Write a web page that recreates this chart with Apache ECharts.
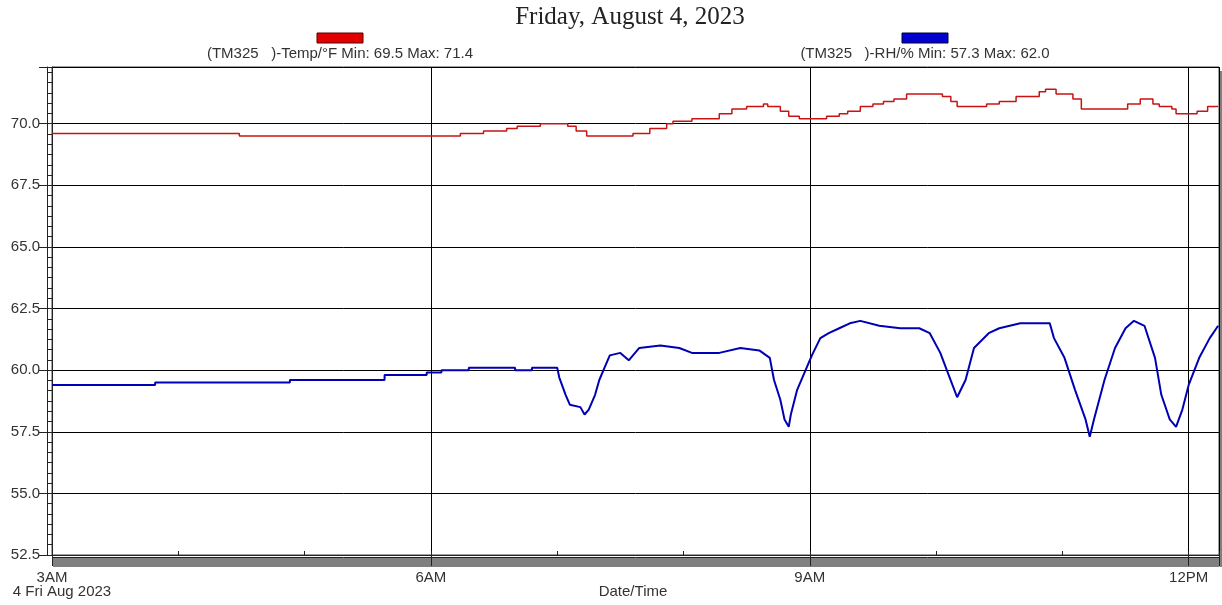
<!DOCTYPE html>
<html><head><meta charset="utf-8">
<script src="https://cdn.jsdelivr.net/npm/echarts@6/dist/echarts.min.js"></script>
<style>html,body{margin:0;padding:0;background:#fff}#c{width:1222px;height:605px}</style>
</head><body><div id="c"></div>
<script>
const titleText = 'Friday, August 4, 2023';
const xTickLabels = {3: '3AM', 6: '6AM', 9: '9AM', 12: '12PM'};
const dateLabel = '4 Fri Aug 2023';
const xAxisName = 'Date/Time';
const tempName = '(TM325   )-Temp/\u00B0F';
const rhName = '(TM325   )-RH/%';

const tempTimes = ["3:00","4:29","6:14","6:25","6:36","6:41","6:52","7:05","7:09","7:14","7:36","7:44","7:52","7:55","8:04","8:17","8:23","8:30","8:38","8:40","8:46","8:50","8:55","9:08","9:14","9:18","9:24","9:30","9:35","9:40","9:46","10:03","10:07","10:10","10:24","10:30","10:38","10:49","10:52","10:57","11:05","11:09","11:31","11:37","11:43","11:46","11:52","11:54","12:04","12:09","12:14"];
const tempValues = [69.6,69.5,69.6,69.7,69.8,69.9,70.0,69.9,69.7,69.5,69.6,69.8,70.0,70.1,70.2,70.4,70.6,70.7,70.8,70.7,70.5,70.3,70.2,70.3,70.4,70.5,70.7,70.8,70.9,71.0,71.2,71.1,70.9,70.7,70.8,70.9,71.1,71.3,71.4,71.2,71.0,70.6,70.8,71.0,70.8,70.7,70.6,70.4,70.5,70.7,70.7];

const rhTimes = ["3:00","3:49","3:49","4:53","4:53","5:38","5:38","5:58","5:58","6:05","6:05","6:18","6:18","6:40","6:40","6:48","6:48","7:00","7:01","7:04","7:06","7:11","7:13","7:15","7:18","7:20","7:23","7:25","7:30","7:34","7:39","7:49","7:58","8:04","8:17","8:27","8:36","8:41","8:43","8:46","8:48","8:50","8:51","8:54","8:58","9:01","9:05","9:09","9:14","9:19","9:24","9:33","9:43","9:52","9:57","10:02","10:06","10:10","10:14","10:18","10:25","10:30","10:40","10:54","10:56","11:01","11:06","11:11","11:13","11:15","11:20","11:25","11:30","11:34","11:39","11:44","11:47","11:51","11:54","11:57","12:00","12:05","12:10","12:14"];
const rhValues = [59.4,59.4,59.5,59.5,59.6,59.6,59.8,59.8,59.9,59.9,60.0,60.0,60.1,60.1,60.0,60.0,60.1,60.1,59.7,59.0,58.6,58.5,58.2,58.4,59.0,59.6,60.2,60.6,60.7,60.4,60.9,61.0,60.9,60.7,60.7,60.9,60.8,60.5,59.6,58.8,58.0,57.7,58.2,59.2,60.0,60.6,61.3,61.5,61.7,61.9,62.0,61.8,61.7,61.7,61.5,60.7,59.8,58.9,59.6,60.9,61.5,61.7,61.9,61.9,61.3,60.5,59.2,58.0,57.3,58.0,59.6,60.9,61.7,62.0,61.8,60.5,59.0,58.0,57.7,58.4,59.4,60.5,61.3,61.8];

function toHours(s) { const p = s.split(':').map(Number); return p[0] + p[1] / 60; }
const tempData = tempTimes.map((t, i) => [toHours(t), tempValues[i]]);
const rhData = rhTimes.map((t, i) => [toHours(t), rhValues[i]]);
const tempText = tempName + ' Min: ' + Math.min(...tempValues).toFixed(1) + ' Max: ' + Math.max(...tempValues).toFixed(1);
const rhText = rhName + ' Min: ' + Math.min(...rhValues).toFixed(1) + ' Max: ' + Math.max(...rhValues).toFixed(1);

const chart = echarts.init(document.getElementById('c'), null, {renderer: 'canvas'});
const FONT = '"Liberation Sans", Arial, sans-serif';
const X_MIN = 3, X_MAX = 12.24, Y_MIN = 52.5, Y_MAX = 72.3;

chart.setOption({
  animation: false,
  backgroundColor: '#ffffff',
  grid: {left: 52, right: 3, top: 67, bottom: 50, containLabel: false, outerBoundsMode: 'none', show: true, borderColor: '#444', borderWidth: 1, backgroundColor: 'transparent'},
  xAxis: [{
    type: 'value', min: X_MIN, max: X_MAX, interval: 3, position: 'bottom',
    axisLine: {show: true, lineStyle: {color: '#222', width: 1}},
    axisTick: {show: true, length: 11, lineStyle: {color: '#222'}},
    splitLine: {show: true, lineStyle: {color: '#000', width: 1}},
    axisLabel: {formatter: v => xTickLabels[v] || '', fontFamily: FONT, fontSize: 15, color: '#333', margin: 15, showMaxLabel: true}
  }, {
    type: 'value', min: X_MIN, max: X_MAX, interval: 1, position: 'bottom',
    axisLine: {show: false},
    axisTick: {show: true, inside: true, length: 4, lineStyle: {color: '#222'}},
    splitLine: {show: false},
    axisLabel: {show: false}
  }],
  yAxis: [{
    type: 'value', min: Y_MIN, max: Y_MAX, interval: 2.5, position: 'left',
    axisLine: {show: true, lineStyle: {color: '#222', width: 1}},
    axisTick: {show: true, length: 13, lineStyle: {color: '#222'}},
    minorTick: {show: true, splitNumber: 6, length: 5, lineStyle: {color: '#222'}},
    splitLine: {show: true, lineStyle: {color: '#000', width: 1}},
    axisLabel: {
      formatter: v => (Math.abs(v / 2.5 - Math.round(v / 2.5)) < 1e-6 ? v.toFixed(1) : ''),
      fontFamily: FONT, fontSize: 15, color: '#333', margin: 12
    }
  }, {
    type: 'value', min: Y_MIN, max: Y_MAX, position: 'left', offset: 5,
    axisLine: {show: true, lineStyle: {color: '#222', width: 1}},
    axisTick: {show: false}, axisLabel: {show: false}, splitLine: {show: false}
  }],
  series: [{
    name: tempName, type: 'line', step: 'end', showSymbol: false, symbol: 'none',
    data: tempData, lineStyle: {color: '#c81414', width: 1.5}, z: 5
  }, {
    name: rhName, type: 'line', showSymbol: false, symbol: 'none',
    data: rhData, lineStyle: {color: '#0000b4', width: 2}, z: 6
  }],
  graphic: [
    {type: 'text', x: 630, y: 17, style: {text: titleText, font: '25px "Liberation Serif", "Times New Roman", serif', fill: '#222', align: 'center', verticalAlign: 'middle'}},
    {type: 'rect', shape: {x: 317, y: 33, width: 46, height: 10}, style: {fill: '#e00000', stroke: '#500', lineWidth: 1}},
    {type: 'text', x: 340, y: 54, style: {text: tempText, font: '15px ' + FONT, fill: '#333', align: 'center', verticalAlign: 'middle'}},
    {type: 'rect', shape: {x: 902, y: 33, width: 46, height: 10}, style: {fill: '#0000d0', stroke: '#003', lineWidth: 1}},
    {type: 'text', x: 925, y: 54, style: {text: rhText, font: '15px ' + FONT, fill: '#333', align: 'center', verticalAlign: 'middle'}},
    {type: 'rect', shape: {x: 53, y: 558, width: 1166, height: 9}, style: {fill: '#808080'}, z: -1},
    {type: 'rect', shape: {x: 1219.5, y: 71, width: 2.5, height: 496}, style: {fill: '#808080'}, z: -1},
    {type: 'line', shape: {x1: 52, y1: 557.5, x2: 1219, y2: 557.5}, style: {stroke: '#222', lineWidth: 1}},
    {type: 'text', x: 62, y: 592, style: {text: dateLabel, font: '15px ' + FONT, fill: '#333', align: 'center', verticalAlign: 'middle'}},
    {type: 'text', x: 633, y: 592, style: {text: xAxisName, font: '15px ' + FONT, fill: '#333', align: 'center', verticalAlign: 'middle'}}
  ]
});
</script>
</body></html>
